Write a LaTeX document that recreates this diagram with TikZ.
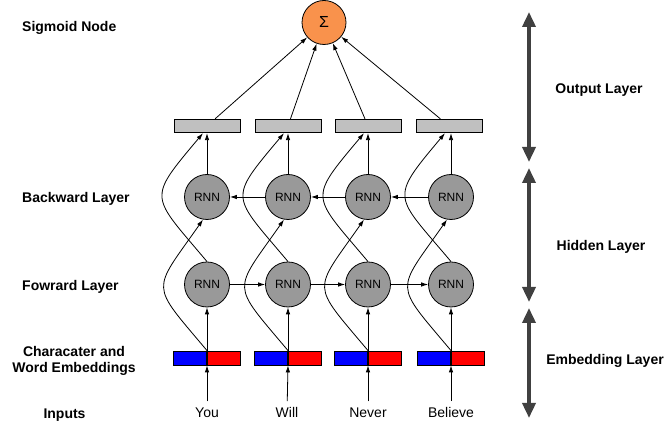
\documentclass[tikz,border=0pt]{standalone}
\usepackage{fontspec}
\setmainfont{Liberation Sans}
\usetikzlibrary{positioning,arrows.meta}
\definecolor{sigmaorange}{RGB}{249,146,76}
\definecolor{rnngray}{RGB}{153,153,153}
\definecolor{boxgray}{RGB}{192,192,192}
\definecolor{layergray}{RGB}{64,64,64}

\begin{document}
\begin{tikzpicture}[
    x=1pt, y=1pt, >={Latex[length=7pt,width=4.5pt]},
    rnn/.style = {circle, draw, line width=0.8pt, fill=rnngray, minimum size=45pt, inner sep=0pt, font=\fontsize{12}{14}\selectfont},
    sigmoid/.style = {circle, draw, line width=0.8pt, fill=sigmaorange, minimum size=44pt, inner sep=0pt, font=\fontsize{16}{18}\selectfont},
    outbox/.style = {rectangle, draw, line width=0.8pt, fill=boxgray, minimum width=66pt, minimum height=13.5pt, inner sep=0pt},
    embblue/.style = {rectangle, draw, line width=0.8pt, fill=blue, minimum width=33pt, minimum height=14pt, inner sep=0pt},
    embred/.style = {embblue, fill=red},
    word/.style = {font=\fontsize{14}{16}\selectfont, inner sep=6pt},
    layer/.style = {font=\bfseries\fontsize{14}{16}\selectfont, align=center, inner sep=0pt},
    transition/.style = {->, line width=0.8pt},
    span/.style = {{Triangle[length=15pt,width=13pt]}-{Triangle[length=15pt,width=13pt]}, line width=3.5pt, draw=layergray}
    ]
    \useasboundingbox (0,0) rectangle (671,427);

    \node[sigmoid] (sigma) at (324,404.5) {Σ};

    \node[outbox] (out1) at (207,301) {};
    \node[outbox] (out2) at (288,301) {};
    \node[outbox] (out3) at (368,301) {};
    \node[outbox] (out4) at (449,301) {};

    \node[rnn] (bw1) at (207,230) {RNN};
    \node[rnn] (bw2) at (288,230) {RNN};
    \node[rnn] (bw3) at (368,230) {RNN};
    \node[rnn] (bw4) at (451,230) {RNN};

    \node[rnn] (fw1) at (207,142.5) {RNN};
    \node[rnn] (fw2) at (288,142.5) {RNN};
    \node[rnn] (fw3) at (368,142.5) {RNN};
    \node[rnn] (fw4) at (451,142.5) {RNN};

    \node[embblue, anchor=east] (eb1) at (207,69) {};
    \node[embred, right=0pt of eb1] (er1) {};
    \node[embblue, anchor=east] (eb2) at (288,69) {};
    \node[embred, right=0pt of eb2] (er2) {};
    \node[embblue, anchor=east] (eb3) at (368,69) {};
    \node[embred, right=0pt of eb3] (er3) {};
    \node[embblue, anchor=east] (eb4) at (451,69) {};
    \node[embred, right=0pt of eb4] (er4) {};

    \node[word] (in1) at (207,14.5) {You};
    \node[word] (in2) at (287,14.5) {Will};
    \node[word] (in3) at (368,14.5) {Never};
    \node[word] (in4) at (451,14.5) {Believe};

    \node[layer, anchor=west] (sigmoidlabel) at (22,399) {Sigmoid Node};
    \node[layer, anchor=west] (backwardlabel) at (22,228) {Backward Layer};
    \node[layer, anchor=west] (forwardlabel) at (22,140) {Fowrard Layer};
    \node[layer] (embeddinglabel) at (74,66) {Characater and\\Word Embeddings};
    \node[layer] (inputlabel) at (64.5,12) {Inputs};

    \node[layer] (outputlayer) at (599,337) {Output Layer};
    \node[layer] (hiddenlayer) at (601,180) {Hidden Layer};
    \node[layer] (embeddinglayer) at (605,66) {Embedding Layer};
    \coordinate (outtop) at (529,415);
    \coordinate (outbot) at (529,265);
    \coordinate (hidtop) at (529,259);
    \coordinate (hidbot) at (529,125);
    \coordinate (embtop) at (529,119);
    \coordinate (embbot) at (529,9);

    \draw[span] (outtop) -- (outbot);
    \draw[span] (hidtop) -- (hidbot);
    \draw[span] (embtop) -- (embbot);

    \draw[transition] (in1) -- (eb1.south east);
    \draw[transition] (in2) -- (eb2.south east);
    \draw[transition] (in3) -- (eb3.south east);
    \draw[transition] (in4) -- (eb4.south east);

    \draw[transition] (eb1.north east) -- (fw1);
    \draw[transition] (eb2.north east) -- (fw2);
    \draw[transition] (eb3.north east) -- (fw3);
    \draw[transition] (eb4.north east) -- (fw4);

    \draw[transition] (eb1.north east) to[out=130, in=-125, looseness=1.75] (bw1.-100);
    \draw[transition] (eb2.north east) to[out=130, in=-125, looseness=1.75] (bw2.-100);
    \draw[transition] (eb3.north east) to[out=130, in=-125, looseness=1.75] (bw3.-100);
    \draw[transition] (eb4.north east) to[out=130, in=-125, looseness=1.75] (bw4.-100);

    \draw[transition] (fw1) -- (fw2);
    \draw[transition] (fw2) -- (fw3);
    \draw[transition] (fw3) -- (fw4);
    \draw[transition] (bw2) -- (bw1);
    \draw[transition] (bw3) -- (bw2);
    \draw[transition] (bw4) -- (bw3);

    \draw[transition] (fw1.north) to[out=130, in=-130, looseness=1.75] ([xshift=-4pt]out1.south);
    \draw[transition] (fw2.north) to[out=130, in=-130, looseness=1.75] ([xshift=-4pt]out2.south);
    \draw[transition] (fw3.north) to[out=130, in=-130, looseness=1.75] ([xshift=-4pt]out3.south);
    \draw[transition] (fw4.north) to[out=130, in=-130, looseness=1.75] ([xshift=-4pt]out4.south);

    \draw[transition] (bw1) -- (out1);
    \draw[transition] (bw2) -- (out2);
    \draw[transition] (bw3) -- (out3);
    \draw[transition] (bw4) -- (bw4 |- out4.south);

    \draw[transition] (out1) -- (sigma);
    \draw[transition] (out2) -- (sigma);
    \draw[transition] (out3) -- (sigma);
    \draw[transition] (out4) -- (sigma);
\end{tikzpicture}
\end{document}
